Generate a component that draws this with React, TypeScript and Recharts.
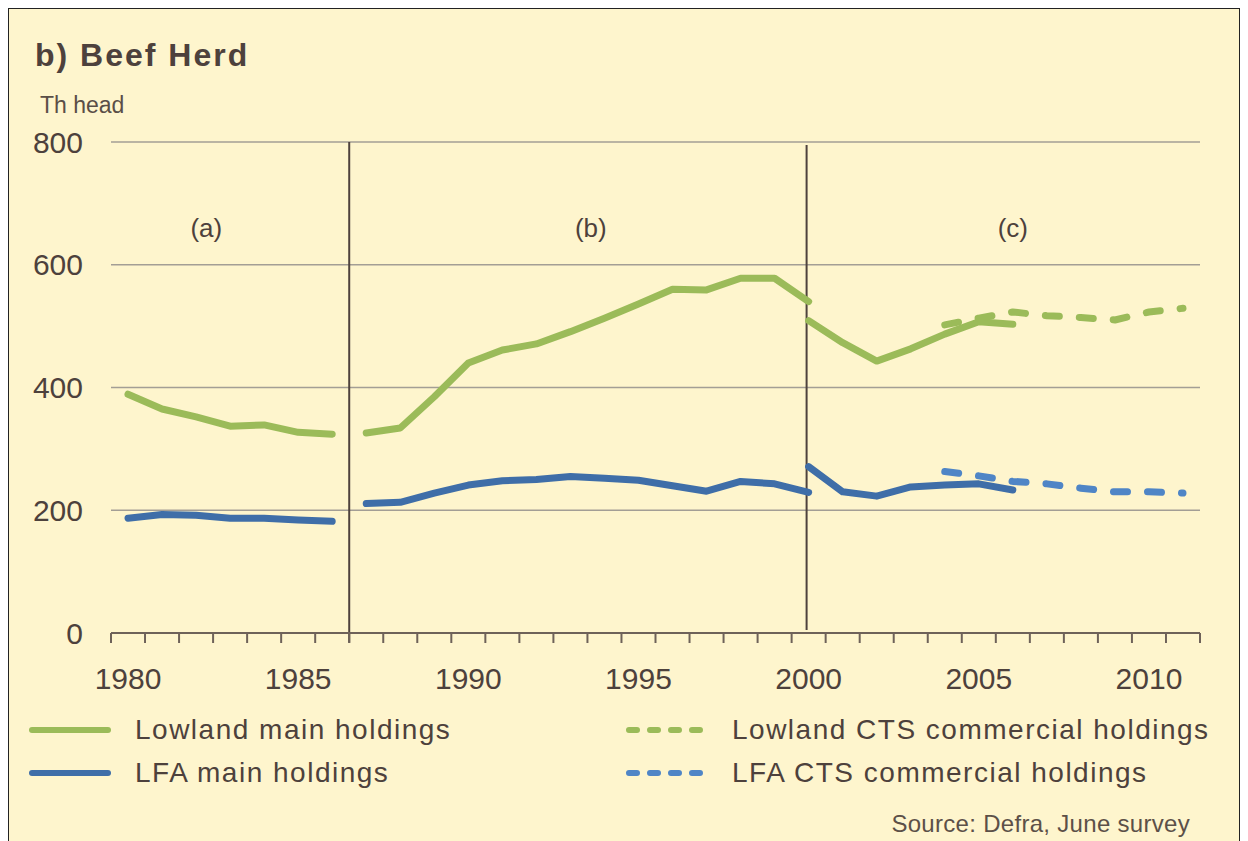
import React from 'react';
import { LineChart, Line, XAxis, YAxis, CartesianGrid, ReferenceLine, ReferenceDot } from 'recharts';

const years = [
  1980, 1981, 1982, 1983, 1984, 1985, 1986, 1987, 1988, 1989, 1990, 1991, 1992, 1993, 1994, 1995,
  1996, 1997, 1998, 1999, 2000, 2001, 2002, 2003, 2004, 2005, 2006, 2007, 2008, 2009, 2010, 2011
];
const yearLabels = [1980, 1985, 1990, 1995, 2000, 2005, 2010];
const yTicks = [0, 200, 400, 600, 800];

// thousand head, each run starts at the given year
const lowlandMainA = [389, 365, 352, 337, 339, 327, 324]; // 1980-1986
const lowlandMainB = [326, 334, 385, 440, 461, 471, 491, 513, 536, 560, 559, 578, 578, 540]; // 1987-2000
const lowlandMainC = [509, 473, 443, 463, 487, 507, 503]; // 2000-2006
const lfaMainA = [187, 193, 192, 187, 187, 184, 182];
const lfaMainB = [211, 213, 228, 241, 248, 250, 255, 252, 249, 240, 231, 247, 243, 229];
const lfaMainC = [271, 230, 223, 238, 241, 243, 233];
const lowlandCts = [502, 513, 523, 517, 514, 510, 523, 529]; // 2004-2011
const lfaCts = [263, 256, 247, 243, 236, 230, 230, 228];

const runs: { key: string; start: number; values: number[] }[] = [
  { key: 'lowA', start: 1980, values: lowlandMainA },
  { key: 'lowB', start: 1987, values: lowlandMainB },
  { key: 'lowC', start: 2000, values: lowlandMainC },
  { key: 'lfaA', start: 1980, values: lfaMainA },
  { key: 'lfaB', start: 1987, values: lfaMainB },
  { key: 'lfaC', start: 2000, values: lfaMainC },
  { key: 'lowCts', start: 2004, values: lowlandCts },
  { key: 'lfaCts', start: 2004, values: lfaCts },
];

const data = years.map((year) => {
  const row: Record<string, number | null> = { year };
  runs.forEach((r) => {
    const i = year - r.start;
    row[r.key] = i >= 0 && i < r.values.length ? r.values[i] : null;
  });
  return row;
});

const boundaries = [...years.map((y) => y - 0.5), years[years.length - 1] + 0.5];

const GREEN = '#9bbb59';
const BLUE = '#3f6ea8';
const BLUE_LIGHT = '#4f85c6';
const TEXT = '#4d413c';
const AXIS = '#6e6259';
const FONT = '"Liberation Sans", Arial, sans-serif';

const legendItems = [
  { label: 'Lowland main holdings', color: GREEN, dashed: false },
  { label: 'Lowland CTS commercial holdings', color: GREEN, dashed: true },
  { label: 'LFA main holdings', color: BLUE, dashed: false },
  { label: 'LFA CTS commercial holdings', color: BLUE_LIGHT, dashed: true },
];

const lineProps = {
  type: 'linear' as const,
  dot: false,
  activeDot: false,
  strokeWidth: 7,
  strokeLinecap: 'round' as const,
  strokeLinejoin: 'round' as const,
  isAnimationActive: false,
  connectNulls: false,
};

function Swatch({ color, dashed }: { color: string; dashed: boolean }) {
  return (
    <svg width={84} height={10} style={{ display: 'block' }}>
      <line
        x1={4}
        x2={80}
        y1={5}
        y2={5}
        stroke={color}
        strokeWidth={6}
        strokeLinecap="round"
        strokeDasharray={dashed ? '8 13' : undefined}
      />
    </svg>
  );
}

export default function App() {
  return (
    <div
      style={{
        position: 'relative',
        width: 1230,
        height: 836,
        border: '1px solid #222',
        background: '#fef5cd',
        fontFamily: FONT,
        color: TEXT,
      }}
    >
      <div style={{ position: 'absolute', left: 26, top: 30, fontSize: 32, lineHeight: 1, fontWeight: 'bold', letterSpacing: 2 }}>
        b) Beef Herd
      </div>
      <div style={{ position: 'absolute', left: 31, top: 85, fontSize: 23, lineHeight: 1, color: '#5a4e47' }}>
        Th head
      </div>

      <div style={{ position: 'absolute', left: 0, top: 0 }}>
        <LineChart width={1230} height={700} data={data} margin={{ top: 133, right: 39, left: 12, bottom: 25 }}>
          <CartesianGrid vertical={false} stroke="#a39e95" strokeWidth={1.5} />
          {/* year boundaries: tick marks only */}
          <XAxis
            xAxisId={0}
            dataKey="year"
            type="number"
            domain={[1979.5, 2011.5]}
            ticks={boundaries}
            interval={0}
            height={1}
            tickFormatter={() => ''}
            tickSize={10}
            tickLine={{ stroke: AXIS, strokeWidth: 2 }}
            axisLine={{ stroke: AXIS, strokeWidth: 2 }}
          />
          {/* year labels, centred on each year */}
          <XAxis
            xAxisId={1}
            dataKey="year"
            type="number"
            domain={[1979.5, 2011.5]}
            ticks={yearLabels}
            interval={0}
            height={50}
            tickLine={false}
            axisLine={false}
            tickSize={0}
            tickMargin={34}
            tick={{ fill: TEXT, fontSize: 30, fontFamily: FONT }}
          />
          <YAxis
            domain={[0, 800]}
            ticks={yTicks}
            width={90}
            tickLine={false}
            axisLine={false}
            tickSize={0}
            tickMargin={28}
            tick={{ fill: TEXT, fontSize: 30, fontFamily: FONT }}
          />

          <ReferenceLine
            segment={[{ x: 1986.5, y: 800 }, { x: 1986.5, y: -16 }]}
            ifOverflow="visible"
            stroke="#4e423d"
            strokeWidth={2}
          />
          <ReferenceLine
            segment={[{ x: 1999.94, y: 795 }, { x: 1999.94, y: 5 }]}
            ifOverflow="visible"
            stroke="#4e423d"
            strokeWidth={2}
          />

          {['(a)', '(b)', '(c)'].map((t, i) => (
            <ReferenceDot
              key={t}
              x={[1982.3, 1993.6, 2006][i]}
              y={661}
              r={1}
              fill="none"
              stroke="none"
              label={{ value: t, position: 'center', fill: TEXT, fontSize: 26, fontFamily: FONT }}
            />
          ))}

          <Line dataKey="lowA" stroke={GREEN} {...lineProps} />
          <Line dataKey="lowB" stroke={GREEN} {...lineProps} />
          <Line dataKey="lowC" stroke={GREEN} {...lineProps} />
          <Line dataKey="lfaA" stroke={BLUE} {...lineProps} />
          <Line dataKey="lfaB" stroke={BLUE} {...lineProps} />
          <Line dataKey="lfaC" stroke={BLUE} {...lineProps} />
          <Line dataKey="lowCts" stroke={GREEN} strokeDasharray="14 20" {...lineProps} />
          <Line dataKey="lfaCts" stroke={BLUE_LIGHT} strokeDasharray="14 20" {...lineProps} />
        </LineChart>
      </div>

      {legendItems.map((item, i) => {
        const col = i % 2;
        const row = Math.floor(i / 2);
        return (
          <div
            key={item.label}
            style={{
              position: 'absolute',
              left: col === 0 ? 19 : 616,
              top: 707 + row * 43,
              display: 'flex',
              alignItems: 'center',
              gap: 23,
              fontSize: 28,
              lineHeight: 1,
              letterSpacing: 1.5,
            }}
          >
            <Swatch color={item.color} dashed={item.dashed} />
            <span>{item.label}</span>
          </div>
        );
      })}

      <div style={{ position: 'absolute', right: 49, top: 803, fontSize: 24, lineHeight: 1, color: '#5c5048', letterSpacing: 0.3 }}>
        Source: Defra, June survey
      </div>
    </div>
  );
}
